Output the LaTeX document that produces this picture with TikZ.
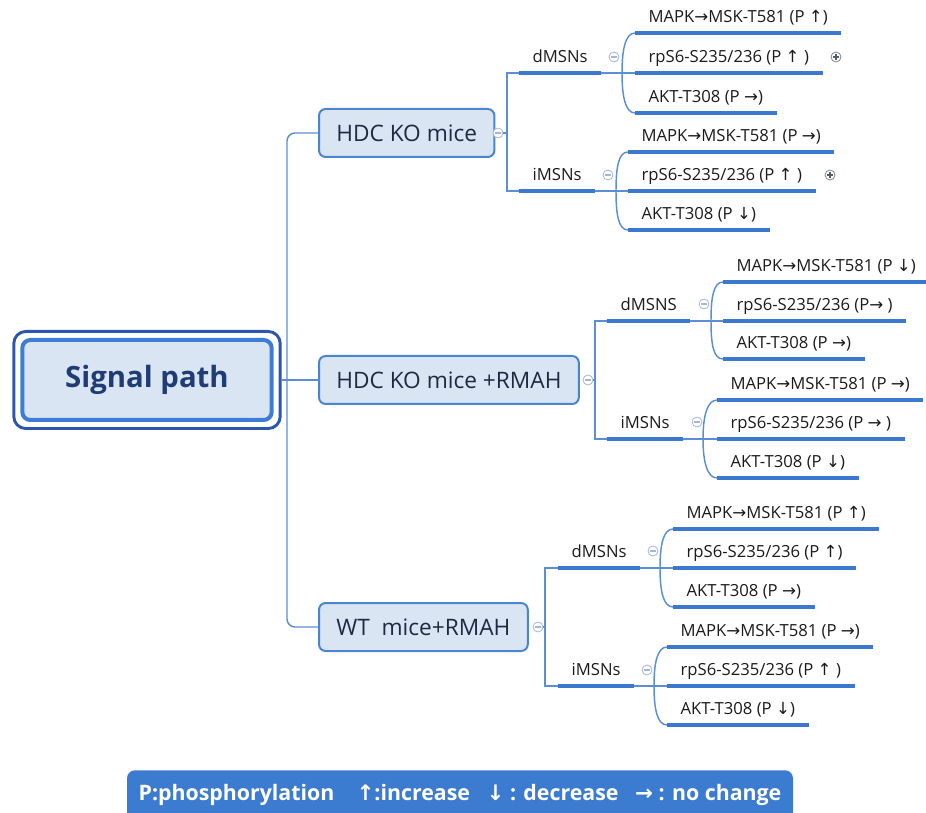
\documentclass[tikz,border=0pt]{standalone}
\usepackage{fontspec}
\setmainfont{Open Sans}
\newfontfamily\arrowfont{DejaVu Sans}
\usetikzlibrary{fit,positioning}

\definecolor{linec}{HTML}{5A8FD8}
\definecolor{ulinec}{HTML}{3C78CE}
\definecolor{boxfill}{HTML}{DAE5F3}
\definecolor{boxline}{HTML}{4A85CF}
\definecolor{rootin}{HTML}{3D7DD2}
\definecolor{rootout}{HTML}{2F56AE}
\definecolor{roottext}{HTML}{1F3C74}
\definecolor{topictext}{HTML}{1F2A40}
\definecolor{leaftext}{HTML}{1A1A1A}
\definecolor{foldc}{HTML}{A3B5D9}
\definecolor{unfoldc}{HTML}{7C8290}
\definecolor{keyfill}{HTML}{3B7BD0}

\newcommand{\arU}{{\arrowfont ↑}}
\newcommand{\arD}{{\arrowfont ↓}}
\newcommand{\arR}{{\arrowfont →}}

\tikzset{%
	root/.style    = {draw=rootin, line width=3pt, fill=boxfill, rounded corners=6pt, outer sep=0pt, minimum width=187pt, minimum height=60pt, text=roottext, font=\bfseries\fontsize{22}{26}\selectfont},
	rim/.style     = {draw=rootout, line width=2.2pt, rounded corners=9pt, inner sep=6.4pt},
	topic/.style   = {draw=boxline, line width=1.5pt, fill=boxfill, rounded corners=5pt, anchor=west, minimum height=36pt, inner xsep=13pt, text=topictext, font=\fontsize{17}{20}\selectfont},
	branch/.style  = {anchor=south west, inner xsep=10pt, inner ysep=5pt, text height=9pt, text depth=3pt, text=leaftext, font=\fontsize{12.5}{15}\selectfont},
	leaf/.style    = {branch},
	fold/.style    = {circle, draw=foldc, fill=white, line width=0.6pt, minimum size=7.5pt, inner sep=0pt,
		path picture={\draw[foldc, line width=0.8pt] ([xshift=-2pt]path picture bounding box.center) -- ([xshift=2pt]path picture bounding box.center);}},
	unfold/.style  = {circle, draw=unfoldc, fill=white, line width=0.6pt, minimum size=7.5pt, inner sep=0pt,
		path picture={\draw[unfoldc!70!black, line width=0.8pt] ([xshift=-2pt]path picture bounding box.center) -- ([xshift=2pt]path picture bounding box.center) ([yshift=-2pt]path picture bounding box.center) -- ([yshift=2pt]path picture bounding box.center);}},
	conn/.style    = {draw=linec, line width=1.1pt},
	uline/.style   = {draw=ulinec, line width=2.4pt},
	key/.style     = {fill=keyfill, rounded corners=6pt, anchor=north, minimum width=499.5pt, minimum height=37.5pt, text=white, font=\bfseries\fontsize{16}{19}\selectfont},
}

\begin{document}
\begin{tikzpicture}[x=0.75pt,y=-0.75pt]
	\useasboundingbox (0,0) rectangle (926,813);

	% root and the three set-ups
	\node [root] (root) at (147,380) {Signal path};
	\node [rim, fit=(root)] (rootrim) {};
	\node [topic] (hdc) at (318,133) {HDC KO mice};
	\node [topic] (hdcr) at (318,380) {HDC KO mice +RMAH};
	\node [topic] (wt) at (318,627) {WT\ \ mice+RMAH};
	\coordinate (jt) at (287,380);

	\draw[conn, rounded corners=6pt] (hdc.west) -| (jt) |- (wt.west);
	\draw[conn] (rootrim.east) -- (hdcr.west);

	% HDC KO mice
	\node [fold] (fa) at (498,133) {};
	\coordinate (ja) at (507,133);
	\node [branch] (ad) at (519,73) {dMSNs};
	\node [branch] (ai) at (519,191) {iMSNs};
	\node [fold] (fad) at (614,57) {};
	\node [fold] (fai) at (608,175) {};
	\coordinate (bad) at (622,73);
	\coordinate (bai) at (616,191);
	\node [leaf] (ad1) at (635,33) {MAPK\arR MSK-T581 (P \arU)};
	\node [leaf] (ad2) at (635,73) {rpS6-S235/236 (P \arU\ )};
	\node [leaf] (ad3) at (635,113) {AKT-T308 (P \arR)};
	\node [leaf] (ai1) at (628,152) {MAPK\arR MSK-T581 (P \arR)};
	\node [leaf] (ai2) at (628,191) {rpS6-S235/236 (P \arU\ )};
	\node [leaf] (ai3) at (628,230) {AKT-T308 (P \arD)};
	\node [unfold] (uad) at (836,57) {};
	\node [unfold] (uai) at (830,175) {};

	\draw[conn] (fa) -- (ja);
	\draw[conn] (ad.south west) -| (ja) |- (ai.south west);
	\draw[conn] (ad.south east) -- (ad2.south west);
	\draw[conn] (ai.south east) -- (ai2.south west);
	\draw[conn] (ad1.south west) .. controls +(-10,0) and +(0,-22) .. (bad) .. controls +(0,22) and +(-10,0) .. (ad3.south west);
	\draw[conn] (ai1.south west) .. controls +(-10,0) and +(0,-22) .. (bai) .. controls +(0,22) and +(-10,0) .. (ai3.south west);

	% HDC KO mice +RMAH
	\node [fold] (fb) at (588,380) {};
	\coordinate (jb) at (595,380);
	\node [branch] (bd) at (607,321) {dMSNS};
	\node [branch] (bi) at (607,439) {iMSNs};
	\node [fold] (fbd) at (704,304) {};
	\node [fold] (fbi) at (697,422) {};
	\coordinate (bbd) at (711,321);
	\coordinate (bbi) at (703,439);
	\node [leaf] (bd1) at (723,282) {MAPK\arR MSK-T581 (P \arD)};
	\node [leaf] (bd2) at (723,321) {rpS6-S235/236 (P\arR\ )};
	\node [leaf] (bd3) at (723,359) {AKT-T308 (P \arR)};
	\node [leaf] (bi1) at (717,400) {MAPK\arR MSK-T581 (P \arR)};
	\node [leaf] (bi2) at (717,439) {rpS6-S235/236 (P \arR\ )};
	\node [leaf] (bi3) at (717,478) {AKT-T308 (P \arD)};

	\draw[conn] (fb) -- (jb);
	\draw[conn] (bd.south west) -| (jb) |- (bi.south west);
	\draw[conn] (bd.south east) -- (bd2.south west);
	\draw[conn] (bi.south east) -- (bi2.south west);
	\draw[conn] (bd1.south west) .. controls +(-10,0) and +(0,-22) .. (bbd) .. controls +(0,22) and +(-10,0) .. (bd3.south west);
	\draw[conn] (bi1.south west) .. controls +(-10,0) and +(0,-22) .. (bbi) .. controls +(0,22) and +(-10,0) .. (bi3.south west);

	% WT mice+RMAH
	\node [fold] (fc) at (538,627) {};
	\coordinate (jc) at (545,627);
	\node [branch] (cd) at (558,568) {dMSNs};
	\node [branch] (ci) at (558,686) {iMSNs};
	\node [fold] (fcd) at (653,551) {};
	\node [fold] (fci) at (647,670) {};
	\coordinate (bcd) at (660,568);
	\coordinate (bci) at (654,686);
	\node [leaf] (cd1) at (673,529) {MAPK\arR MSK-T581 (P \arU)};
	\node [leaf] (cd2) at (673,568) {rpS6-S235/236 (P \arU)};
	\node [leaf] (cd3) at (673,607) {AKT-T308 (P \arR)};
	\node [leaf] (ci1) at (667,647) {MAPK\arR MSK-T581 (P \arR)};
	\node [leaf] (ci2) at (667,686) {rpS6-S235/236 (P \arU\ )};
	\node [leaf] (ci3) at (667,725) {AKT-T308 (P \arD)};

	\draw[conn] (fc) -- (jc);
	\draw[conn] (cd.south west) -| (jc) |- (ci.south west);
	\draw[conn] (cd.south east) -- (cd2.south west);
	\draw[conn] (ci.south east) -- (ci2.south west);
	\draw[conn] (cd1.south west) .. controls +(-10,0) and +(0,-22) .. (bcd) .. controls +(0,22) and +(-10,0) .. (cd3.south west);
	\draw[conn] (ci1.south west) .. controls +(-10,0) and +(0,-22) .. (bci) .. controls +(0,22) and +(-10,0) .. (ci3.south west);

	% underlines
	\foreach \n in {ad,ai,ad1,ad2,ad3,ai1,ai2,ai3,bd,bi,bd1,bd2,bd3,bi1,bi2,bi3,cd,ci,cd1,cd2,cd3,ci1,ci2,ci3}
		\draw[uline] (\n.south west) -- (\n.south east);

	% legend
	\node [key] (legend) at (460,770) {P:phosphorylation\ \ \ \ \arU:increase\ \ \ \arD\ : decrease\ \ \ \arR\ : no change};
\end{tikzpicture}
\end{document}
